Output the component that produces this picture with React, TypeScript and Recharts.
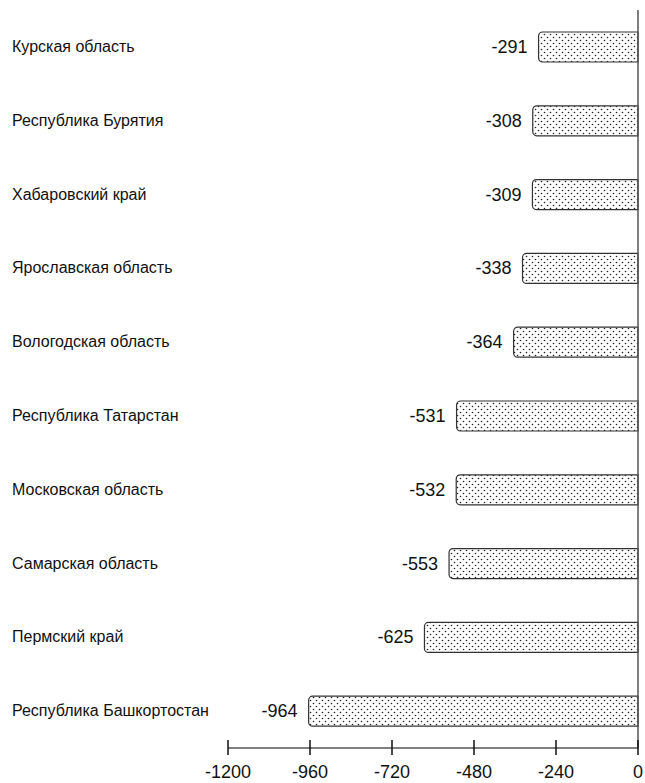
import React from "react";
import {
  BarChart,
  Bar,
  XAxis,
  YAxis,
  ReferenceLine,
  LabelList,
} from "recharts";

const regions = [
  "Курская область",
  "Республика Бурятия",
  "Хабаровский край",
  "Ярославская область",
  "Вологодская область",
  "Республика Татарстан",
  "Московская область",
  "Самарская область",
  "Пермский край",
  "Республика Башкортостан",
];

const values = [-291, -308, -309, -338, -364, -531, -532, -553, -625, -964];

const xTicks = [-1200, -960, -720, -480, -240, 0];

const data = regions.map((region, i) => ({ region, value: values[i] }));

const FONT = "'Liberation Sans', Arial, sans-serif";

const CategoryTick = (props: any) => {
  const { y, payload } = props;
  return (
    <text x={12} y={y} dy={5} fontSize={16} fontFamily={FONT} fill="#111" textAnchor="start">
      {payload.value}
    </text>
  );
};

const ValueTick = (props: any) => {
  const { x, y, payload } = props;
  return (
    <g>
      <line x1={x} x2={x} y1={y - 8} y2={y + 7} stroke="#111" strokeWidth={1.5} />
      <text x={x} y={y + 30} fontSize={18} fontFamily={FONT} fill="#111" textAnchor="middle">
        {payload.value}
      </text>
    </g>
  );
};

const ValueLabel = (props: any) => {
  const { x, y, width, height, value } = props;
  const left = Math.min(x, x + width);
  return (
    <text
      x={left - 11}
      y={y + height / 2}
      dy={6}
      fontSize={18}
      fontFamily={FONT}
      fill="#111"
      textAnchor="end"
    >
      {value}
    </text>
  );
};

export default function App() {
  return (
    <div style={{ position: "absolute", left: 0, top: 0, background: "#fff" }}>
      <BarChart
        width={645}
        height={783}
        data={data}
        layout="vertical"
        margin={{ top: 10, right: 7, left: 10, bottom: 0 }}
      >
        <defs>
          <pattern id="dots" width="6" height="6" patternUnits="userSpaceOnUse">
            <rect width="6" height="6" fill="#fff" />
            <circle cx="1.5" cy="1.5" r="0.8" fill="#222" />
            <circle cx="4.5" cy="4.5" r="0.8" fill="#222" />
          </pattern>
        </defs>
        <XAxis
          type="number"
          domain={[-1200, 0]}
          ticks={xTicks}
          height={35}
          axisLine={{ stroke: "#555", strokeWidth: 1.5 }}
          tickLine={false}
          tickSize={0}
          tickMargin={0}
          tick={<ValueTick />}
          interval={0}
        />
        <YAxis
          type="category"
          dataKey="region"
          width={218}
          axisLine={false}
          tickLine={false}
          tick={<CategoryTick />}
          interval={0}
        />
        <ReferenceLine x={0} stroke="#555" strokeWidth={1.5} />
        <Bar
          dataKey="value"
          barSize={30}
          fill="url(#dots)"
          stroke="#333"
          strokeWidth={1.2}
          radius={[0, 4, 4, 0]}
          isAnimationActive={false}
        >
          <LabelList dataKey="value" content={<ValueLabel />} />
        </Bar>
      </BarChart>
    </div>
  );
}
